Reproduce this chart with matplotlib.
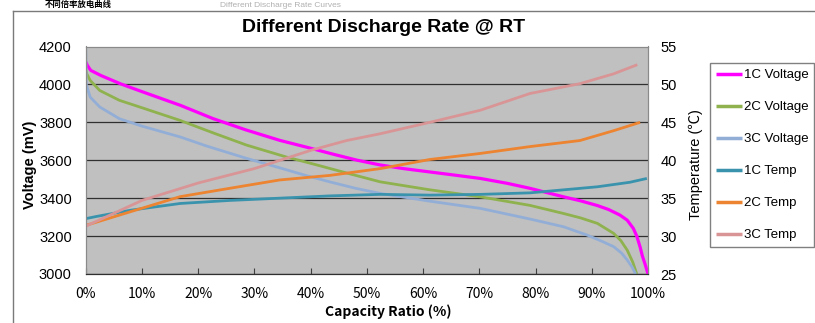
import matplotlib
matplotlib.use("Agg")
import matplotlib.pyplot as plt
from matplotlib.lines import Line2D


# ---- data ----
cap_1c_v = [0, 0.3, 0.9, 2.7, 6.2, 10, 16.9, 22.7, 28.5, 34.5, 39.4, 44, 48.3, 52.4, 56.5, 61, 65.5, 70.2, 75, 79, 85, 88, 91, 93, 95, 96.3, 97.4, 98, 98.6, 99, 99.5, 100]
volt_1c = [4120, 4100, 4074, 4047, 4003, 3962, 3889, 3819, 3760, 3705, 3668, 3632, 3600, 3575, 3556, 3539, 3522, 3504, 3478, 3452, 3407, 3386, 3361, 3340, 3311, 3284, 3240, 3200, 3142, 3095, 3050, 3000]

cap_2c_v = [0, 0.2, 0.8, 2.5, 6, 10, 16.8, 22.7, 28.6, 35.7, 40.5, 46.5, 52.4, 61, 70.2, 79, 85, 88, 91, 93.9, 95.2, 96.3, 97.3, 98]
volt_2c = [4080, 4056, 4021, 3968, 3916, 3877, 3810, 3744, 3680, 3617, 3580, 3532, 3486, 3445, 3407, 3362, 3319, 3296, 3267, 3214, 3175, 3126, 3062, 3000]

cap_3c_v = [0, 0.1, 0.8, 2.5, 6, 10, 16.8, 21.5, 28.6, 34.5, 39, 43.4, 48, 52.4, 61, 70.2, 79, 85, 89.2, 92, 93.9, 95.3, 96.3, 97.2, 97.8]
volt_3c = [4200, 4000, 3933, 3881, 3819, 3780, 3723, 3675, 3610, 3560, 3521, 3486, 3452, 3425, 3385, 3346, 3290, 3249, 3205, 3170, 3144, 3110, 3074, 3035, 3000]

cap_1c_t = [0, 2, 7.9, 16.8, 25.6, 34.5, 43.4, 52.4, 61.2, 70.2, 79, 85, 91, 96.8, 99.8]
temp_1c = [32.3, 32.6, 33.4, 34.3, 34.7, 35.0, 35.3, 35.5, 35.4, 35.5, 35.7, 36.1, 36.5, 37.1, 37.6]

cap_2c_t = [0, 7.9, 16.8, 25.6, 34.5, 43.4, 52.4, 61.2, 70.2, 79, 87.9, 93.9, 98.6]
temp_2c = [31.4, 33.2, 35.2, 36.3, 37.4, 38.0, 38.9, 40.1, 40.9, 41.8, 42.6, 43.9, 45.0]

cap_3c_t = [0, 10, 20, 30, 40, 46.4, 52.4, 61.2, 70.2, 79, 87.9, 93.9, 98.1]
temp_3c = [31.3, 34.7, 37.0, 38.9, 41.3, 42.6, 43.5, 45.0, 46.6, 48.8, 50.1, 51.4, 52.6]

x_ticks = [0, 10, 20, 30, 40, 50, 60, 70, 80, 90, 100]
v_ticks = [3000, 3200, 3400, 3600, 3800, 4000, 4200]
t_ticks = [25, 30, 35, 40, 45, 50, 55]

C_1C_V = "#ff00ff"
C_2C_V = "#8fb24e"
C_3C_V = "#93aed6"
C_1C_T = "#3a93ad"
C_2C_T = "#ec8431"
C_3C_T = "#d99596"

ARIAL = ["Liberation Sans", "DejaVu Sans"]
KR = ["Noto Sans CJK KR", "DejaVu Sans"]

fig = plt.figure(figsize=(8.15, 3.23), dpi=100)
fig.patch.set_facecolor("white")

ax = fig.add_axes([85.7 / 815, 1 - 274 / 323, (648 - 85.7) / 815, (274 - 46.5) / 323])
ax.set_facecolor("#c0c0c0")
ax2 = ax.twinx()

kw = dict(solid_joinstyle="round", solid_capstyle="butt")
ax.plot(cap_1c_v, volt_1c, color=C_1C_V, lw=2.3, label="1C Voltage", **kw)
ax.plot(cap_2c_v, volt_2c, color=C_2C_V, lw=2.0, label="2C Voltage", **kw)
ax.plot(cap_3c_v, volt_3c, color=C_3C_V, lw=2.0, label="3C Voltage", **kw)
ax2.plot(cap_1c_t, temp_1c, color=C_1C_T, lw=2.0, label="1C Temp", **kw)
ax2.plot(cap_2c_t, temp_2c, color=C_2C_T, lw=2.0, label="2C Temp", **kw)
ax2.plot(cap_3c_t, temp_3c, color=C_3C_T, lw=2.0, label="3C Temp", **kw)

ax.set_xlim(0, 100)
ax.set_ylim(3000, 4200)
ax2.set_ylim(25, 55)

ax.set_xticks(x_ticks)
ax.set_xticklabels([f"{t}%" for t in x_ticks], family=KR, fontsize=10)
ax.set_yticks(v_ticks)
ax.set_yticklabels([str(t) for t in v_ticks], family=ARIAL, fontsize=10.5)
ax2.set_yticks(t_ticks)
ax2.set_yticklabels([str(t) for t in t_ticks], family=ARIAL, fontsize=10.5)

ax.tick_params(axis="x", direction="in", length=4, pad=9, color="#404040")
ax.tick_params(axis="y", length=0, pad=10)
ax2.tick_params(axis="y", length=0, pad=9)

ax.grid(axis="y", color="#303030", lw=0.9)
ax.set_axisbelow(True)

for a in (ax, ax2):
    for s in ("top", "right", "left"):
        a.spines[s].set_color("#8a8a8a")
    a.spines["bottom"].set_color("#303030")

ax.set_xlabel("Capacity Ratio (%)", family=KR, fontsize=10, fontweight="bold")
ax.xaxis.set_label_coords((388 - 85.7) / (648 - 85.7), -(312 - 274) / (274 - 46.5), transform=ax.transAxes)
ax.xaxis.label.set_va("center")
ax.set_ylabel("Voltage (mV)", family=ARIAL, fontsize=10.5, fontweight="bold")
ax.yaxis.set_label_coords(-(85.7 - 30) / (648 - 85.7), 0.48)
ax.yaxis.label.set_va("center")
ax2.set_ylabel("Temperature (℃)", family=["Liberation Sans", "Noto Sans CJK KR", "DejaVu Sans"], fontsize=10.5)
ax2.yaxis.set_label_coords(1 + (696 - 648) / (648 - 85.7), 0.48)
ax2.yaxis.label.set_va("center")

fig.text(384 / 815, 1 - 27 / 323, "Different Discharge Rate @ RT", family=ARIAL,
         fontsize=14, fontweight="bold", ha="center", va="center")

# heading line above the chart frame (small, squeezed into the top strip)
fig.text(45 / 815, 1 - 9 / 323, "不同倍率放电曲线", family=["Noto Sans CJK SC", "DejaVu Sans"],
         fontsize=6, fontweight="bold", ha="left", va="bottom")
fig.text(220 / 815, 1 - 9 / 323, "Different Discharge Rate Curves", family=ARIAL,
         fontsize=6, color="#b0b0b0", ha="left", va="bottom")

# outer chart frame (cut off at right and bottom)
fig.add_artist(Line2D([13 / 815, 13 / 815], [0, 1 - 10.5 / 323], transform=fig.transFigure, color="#7a7a7a", lw=1))
fig.add_artist(Line2D([13 / 815, 1], [1 - 10.5 / 323, 1 - 10.5 / 323], transform=fig.transFigure, color="#7a7a7a", lw=1))

h1, l1 = ax.get_legend_handles_labels()
h2, l2 = ax2.get_legend_handles_labels()
leg = fig.legend(h1 + h2, l1 + l2, loc="upper left", bbox_to_anchor=(710 / 815, 1 - 63 / 323),
                 borderaxespad=0, prop={"family": ARIAL, "size": 9.5}, fancybox=False,
                 edgecolor="#808080", framealpha=1, handlelength=2.0, handletextpad=0.1,
                 labelspacing=1.5, borderpad=0.45)
leg.get_frame().set_linewidth(1.0)
for line in leg.get_lines():
    line.set_linewidth(2.5)

fig.savefig("out.png", dpi=100)
